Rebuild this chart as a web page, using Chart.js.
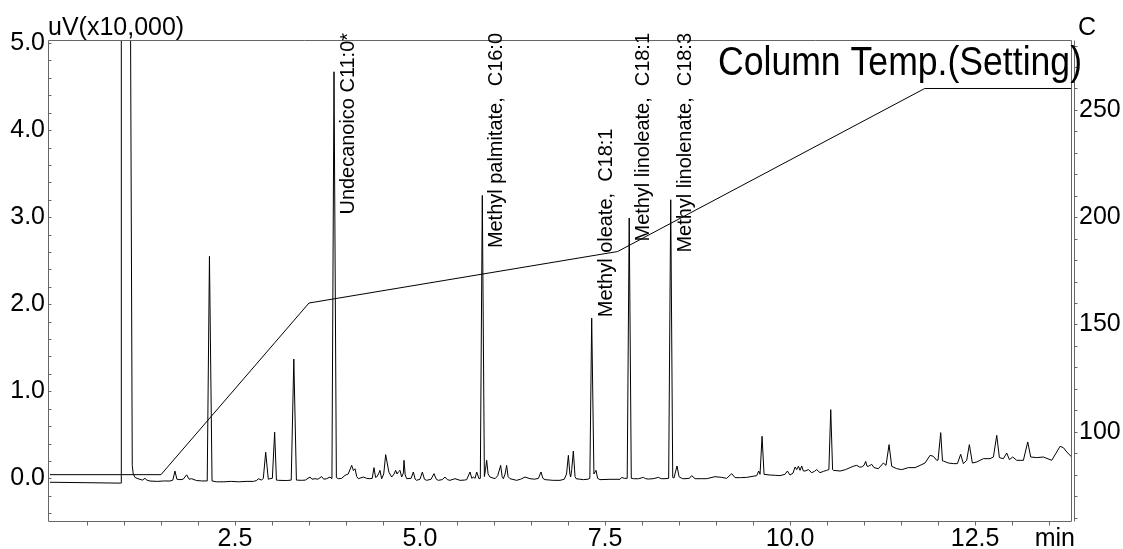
<!DOCTYPE html>
<html><head><meta charset="utf-8">
<script src="https://cdn.jsdelivr.net/npm/chart.js@4.4.0/dist/chart.umd.min.js"></script>
<style>html,body{margin:0;padding:0;background:#fff;}#wrap{width:1123px;height:549px;position:relative;}</style>
</head><body><div id="wrap"><canvas id="c" width="1123" height="549"></canvas></div>
<script>
// chromatogram signal: [time (min), uV x10,000]
const signal = [
[0,-0.045],[0.5,-0.05],[0.95,-0.055],[0.962,-0.055],[0.964,6],[1.085,6],[1.112,0.15],[1.125,0.05],[1.15,0.01],
[1.19,-0.004],[1.23,-0.015],[1.25,-0.02],[1.284,0.0],[1.31,-0.02],[1.351,-0.031],[1.45,-0.035],[1.55,-0.03],[1.622,-0.031],[1.66,-0.02],
[1.689,0.084],[1.715,-0.01],[1.757,-0.015],[1.80,-0.01],[1.847,0.04],[1.88,-0.01],[1.914,-0.004],[1.98,-0.025],[2.05,-0.03],[2.125,-0.03],
[2.155,2.55],[2.19,-0.03],[2.25,-0.04],[2.35,-0.04],[2.45,-0.035],[2.55,-0.04],[2.65,-0.035],[2.75,-0.035],[2.793,-0.025],[2.815,-0.004],
[2.86,-0.02],[2.883,0.0],[2.915,0.30],[2.95,-0.01],[2.973,-0.004],[3.005,0.0],[3.036,0.53],[3.06,-0.02],[3.086,-0.023],[3.2,-0.025],
[3.26,-0.02],[3.295,1.37],[3.33,-0.02],[3.40,-0.023],[3.45,-0.02],[3.514,0.015],[3.54,-0.01],[3.581,-0.004],[3.62,-0.01],[3.671,0.02],
[3.70,-0.01],[3.739,-0.004],[3.784,0.015],[3.81,-0.004],[3.838,4.67],[3.87,0.01],[3.896,-0.004],[3.94,0.0],[3.986,0.034],[4.03,0.05],
[4.077,0.149],[4.10,0.09],[4.122,0.11],[4.145,0.02],[4.167,-0.004],[4.234,0.015],[4.28,0.0],[4.324,-0.004],[4.355,0.0],[4.378,0.123],
[4.40,0.01],[4.414,0.015],[4.44,0.05],[4.459,0.092],[4.482,-0.004],[4.51,0.05],[4.536,0.272],[4.58,0.07],[4.617,0.015],[4.65,0.05],
[4.671,0.092],[4.69,0.05],[4.707,0.073],[4.730,0.092],[4.752,0.015],[4.775,0.06],[4.784,0.207],[4.80,0.04],[4.820,-0.004],[4.88,0.0],
[4.910,0.073],[4.935,-0.01],[4.955,-0.023],[5.0,-0.01],[5.032,0.073],[5.06,-0.01],[5.09,-0.023],[5.15,-0.01],[5.189,0.054],[5.22,-0.01],
[5.248,-0.023],[5.3,-0.015],[5.338,0.015],[5.37,-0.015],[5.405,-0.023],[5.473,-0.004],[5.541,-0.023],[5.60,-0.02],[5.631,-0.015],[5.676,0.073],
[5.70,0.0],[5.721,0.015],[5.745,0.0],[5.766,0.073],[5.797,-0.004],[5.815,0.0],[5.842,3.25],[5.87,0.02],[5.885,0.1],[5.901,0.207],
[5.92,0.05],[5.946,0.015],[6.014,-0.004],[6.05,0.03],[6.090,0.149],[6.11,0.02],[6.126,-0.004],[6.15,0.05],[6.171,0.149],[6.19,0.02],
[6.216,-0.004],[6.306,-0.023],[6.36,-0.01],[6.419,0.015],[6.486,-0.004],[6.55,-0.01],[6.60,0.0],[6.635,0.073],[6.66,0.0],[6.689,-0.015],
[6.80,-0.023],[6.892,-0.023],[6.95,-0.01],[6.98,0.05],[7.005,0.264],[7.025,0.05],[7.036,0.015],[7.05,0.1],[7.072,0.314],[7.095,0.02],
[7.108,-0.004],[7.207,-0.015],[7.27,-0.01],[7.295,0.0],[7.32,1.84],[7.35,0.05],[7.37,0.08],[7.378,0.092],[7.40,0.0],[7.432,-0.015],
[7.568,-0.011],[7.703,-0.011],[7.725,0.011],[7.76,0.0],[7.80,0.0],[7.827,2.99],[7.855,0.0],[7.883,-0.004],[7.95,-0.005],[8.018,0.011],
[8.05,-0.004],[8.086,-0.008],[8.15,-0.004],[8.221,0.011],[8.26,-0.004],[8.311,-0.004],[8.36,0.0],[8.388,3.2],[8.415,0.01],[8.432,0.004],
[8.473,0.142],[8.50,0.02],[8.514,0.011],[8.55,-0.004],[8.581,-0.004],[8.64,0.0],[8.671,0.031],[8.716,-0.004],[8.80,-0.004],[8.874,-0.004],
[8.986,0.019],[9.077,0.011],[9.144,0.0],[9.212,0.054],[9.257,0.008],[9.33,0.008],[9.414,0.011],[9.55,0.031],[9.577,0.084],[9.595,0.046],
[9.622,0.483],[9.649,0.046],[9.730,0.038],[9.80,0.035],[9.865,0.031],[9.932,0.046],[9.964,0.084],[10.0,0.038],[10.04,0.06],[10.068,0.13],
[10.09,0.1],[10.113,0.14],[10.135,0.092],[10.158,0.142],[10.18,0.085],[10.203,0.084],[10.248,0.1],[10.293,0.065],[10.33,0.08],[10.36,0.1],
[10.405,0.065],[10.45,0.08],[10.495,0.092],[10.525,0.1],[10.55,0.789],[10.575,0.1],[10.586,0.092],[10.676,0.084],[10.75,0.1],[10.811,0.123],
[10.86,0.14],[10.901,0.149],[10.94,0.13],[10.968,0.13],[11.0,0.15],[11.022,0.195],[11.04,0.14],[11.059,0.138],[11.104,0.161],[11.135,0.123],
[11.194,0.111],[11.261,0.176],[11.297,0.149],[11.338,0.387],[11.374,0.138],[11.441,0.111],[11.509,0.1],[11.599,0.123],[11.689,0.123],[11.757,0.149],
[11.824,0.176],[11.892,0.264],[11.937,0.253],[11.982,0.207],[12.0,0.21],[12.036,0.525],[12.06,0.2],[12.072,0.199],[12.14,0.176],[12.207,0.169],
[12.261,0.169],[12.306,0.276],[12.342,0.169],[12.387,0.207],[12.423,0.387],[12.464,0.176],[12.523,0.188],[12.613,0.226],[12.703,0.226],[12.748,0.245],
[12.793,0.494],[12.829,0.238],[12.883,0.226],[12.928,0.291],[12.964,0.215],[13.009,0.245],[13.063,0.207],[13.153,0.207],[13.212,0.418],[13.252,0.245],
[13.333,0.238],[13.423,0.245],[13.536,0.207],[13.604,0.303],[13.649,0.368],[13.694,0.352],[13.739,0.303],[13.806,0.245],[13.82,0.24]
];
// column temperature program (setting)
const tempTimes  = [0, 1.5, 3.5, 7.67, 11.82, 13.82];
const tempValues = [80, 80, 160, 184, 260, 260];
// peak annotations
const peakNames = ['Undecanoico C11:0*','Methyl palmitate,  C16:0','Methyl oleate,  C18:1','Methyl linoleate,  C18:1','Methyl linolenate,  C18:3'];
const peakTimes = [3.838, 5.842, 7.32, 7.827, 8.388];
// axes
const xMin = -0.013, xMax = 13.81;
const yMin = -0.49, yMax = 5.035;
const y2Min = 58.4, y2Max = 282.6;
const xTickValues = [0.5,1,1.5,2,2.5,3,3.5,4,4.5,5,5.5,6,6.5,7,7.5,8,8.5,9,9.5,10,10.5,11,11.5,12,12.5,13,13.5];
const xLabelValues = [2.5,5,7.5,10,12.5];
const yTickValues = [-0.4,-0.2,0,0.2,0.4,0.6,0.8,1,1.2,1.4,1.6,1.8,2,2.2,2.4,2.6,2.8,3,3.2,3.4,3.6,3.8,4,4.2,4.4,4.6,4.8,5];
const yLabelValues = [0,1,2,3,4,5];
const y2TickValues = [60,70,80,90,100,110,120,130,140,150,160,170,180,190,200,210,220,230,240,250,260,270,280];
const y2LabelValues = [100,150,200,250];
const yTitle = 'uV(x10,000)', y2Title = 'C', xTitle = 'min', tempTitle = 'Column Temp.(Setting)';

const FONT = '"Liberation Sans", Arial, sans-serif';
const isIn = (arr, v) => arr.some(a => Math.abs(a - v) < 1e-6);
const setTicks = vals => scale => { scale.ticks = vals.map(v => ({value: v})); };

const decor = {
  id: 'decor',
  afterDatasetsDraw(chart) {
    const {ctx, chartArea: a, scales: {x, y, y2}} = chart;
    ctx.save();
    ctx.strokeStyle = '#666'; ctx.lineWidth = 1;
    ctx.beginPath();
    const L = a.left - 0.5, R = a.right - 0.5, T = a.top + 0.5, B = a.bottom + 0.5;
    ctx.moveTo(L, T); ctx.lineTo(R, T); ctx.lineTo(R, B); ctx.lineTo(L, B); ctx.closePath();
    ctx.moveTo(R + 3, T); ctx.lineTo(R + 3, B);
    xTickValues.forEach(v => { const p = Math.round(x.getPixelForValue(v)) + 0.5; ctx.moveTo(p, B); ctx.lineTo(p, B + 4); });
    yTickValues.forEach(v => { const p = Math.round(y.getPixelForValue(v)) + 0.5; ctx.moveTo(L, p); ctx.lineTo(L + 3, p); });
    y2TickValues.forEach(v => { const p = Math.round(y2.getPixelForValue(v)) + 0.5; ctx.moveTo(R + 3, p); ctx.lineTo(R + 6, p); });
    ctx.stroke();

    ctx.fillStyle = '#000';
    // axis titles
    ctx.font = '25px ' + FONT; ctx.textBaseline = 'alphabetic';
    ctx.textAlign = 'left'; ctx.fillText(yTitle, a.left - 1, 35);
    ctx.fillText(y2Title, a.right + 6, 35);
    ctx.textAlign = 'right'; ctx.fillText(xTitle, a.right + 3, 546);

    // temperature title (condensed)
    ctx.font = '40px ' + FONT; ctx.textAlign = 'left';
    const tw = ctx.measureText(tempTitle).width;
    const targetW = 364;
    ctx.save(); ctx.translate(718, 75); ctx.scale(targetW / tw, 1); ctx.fillText(tempTitle, 0, 0); ctx.restore();

    // peak labels (rotated, reading upward, slightly condensed)
    ctx.font = '21px ' + FONT; ctx.textAlign = 'left'; ctx.textBaseline = 'alphabetic';
    const squeeze = 0.95;
    peakNames.forEach((name, i) => {
      const t = peakTimes[i];
      let top = -Infinity;
      signal.forEach(([st, sv]) => { if (Math.abs(st - t) < 0.02 && sv > top) top = sv; });
      const px = x.getPixelForValue(t);
      const py = y.getPixelForValue(top);
      const w = ctx.measureText(name).width * squeeze;
      const start = Math.max(py - 1, a.top - 7 + w);
      ctx.save(); ctx.translate(px + 20, start); ctx.rotate(-Math.PI / 2); ctx.scale(squeeze, 1); ctx.fillText(name, 0, 0); ctx.restore();
    });
    ctx.restore();
  }
};

new Chart(document.getElementById('c'), {
  type: 'line',
  data: {
    datasets: [
      { data: signal.map(([t, v]) => ({x: t, y: v})), yAxisID: 'y', borderColor: '#000', borderWidth: 1, pointRadius: 0, tension: 0, fill: false },
      { data: tempTimes.map((t, i) => ({x: t, y: tempValues[i]})), yAxisID: 'y2', borderColor: '#000', borderWidth: 1, pointRadius: 0, tension: 0, fill: false }
    ]
  },
  options: {
    responsive: false, animation: false, devicePixelRatio: 1,
    layout: { padding: { top: 40, left: 0, right: 0, bottom: 0 } },
    plugins: { legend: { display: false }, tooltip: { enabled: false } },
    scales: {
      x: {
        type: 'linear', min: xMin, max: xMax,
        afterBuildTicks: setTicks(xTickValues),
        afterFit: s => { s.height = 28; },
        grid: { display: false, drawTicks: false }, border: { display: false },
        ticks: { autoSkip: false, maxRotation: 0, padding: 3, color: '#000', font: { family: FONT, size: 25 },
          callback: v => isIn(xLabelValues, v) ? v.toFixed(1) : '' }
      },
      y: {
        type: 'linear', position: 'left', min: yMin, max: yMax,
        afterBuildTicks: setTicks(yTickValues),
        afterFit: s => { s.width = 49; },
        grid: { display: false, drawTicks: false }, border: { display: false },
        ticks: { autoSkip: false, padding: 4, color: '#000', font: { family: FONT, size: 25 },
          callback: v => isIn(yLabelValues, v) ? v.toFixed(1) : '' }
      },
      y2: {
        type: 'linear', position: 'right', min: y2Min, max: y2Max,
        afterBuildTicks: setTicks(y2TickValues),
        afterFit: s => { s.width = 51; },
        grid: { display: false, drawTicks: false }, border: { display: false },
        ticks: { autoSkip: false, padding: 7, color: '#000', font: { family: FONT, size: 25 },
          callback: v => isIn(y2LabelValues, v) ? String(Math.round(v)) : '' }
      }
    }
  },
  plugins: [decor]
});
</script></body></html>
